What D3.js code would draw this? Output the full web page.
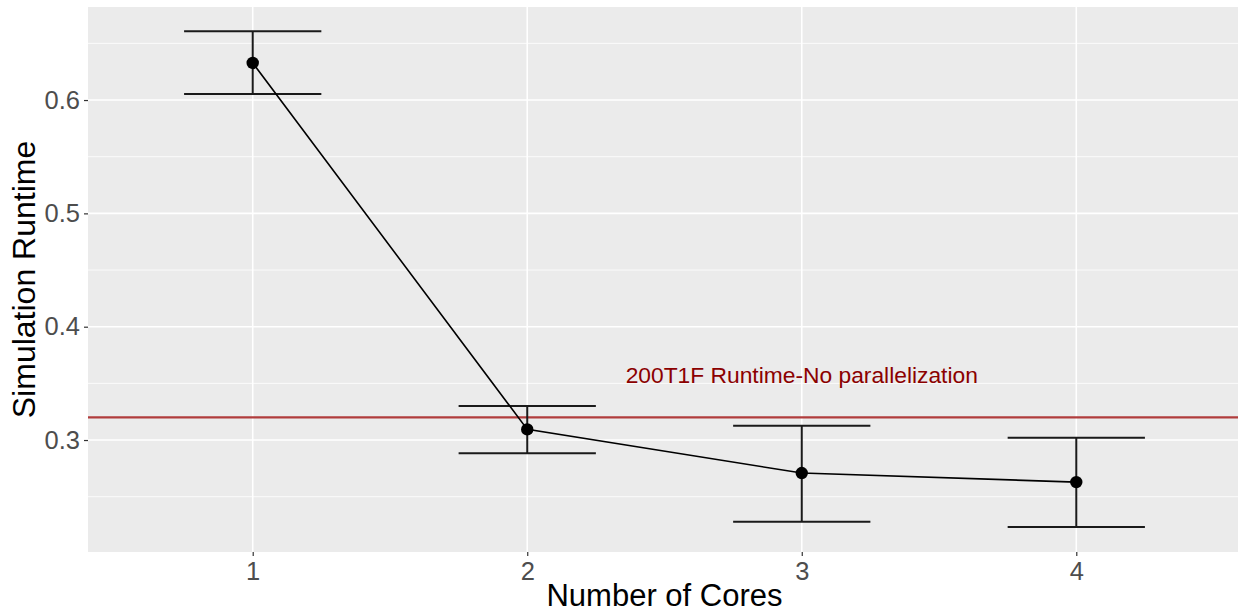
<!DOCTYPE html>
<html>
<head>
<meta charset="utf-8">
<script src="https://cdn.jsdelivr.net/npm/d3@7"></script>
<style>
  html, body { margin: 0; padding: 0; background: #fff; }
  svg { display: block; font-family: "Liberation Sans", Arial, sans-serif; }
</style>
</head>
<body>
<svg id="chart" width="1238" height="614"></svg>
<script>
// Runtime by number of cores, mean with error bars
const cores = [1, 2, 3, 4];
const runtime = [0.6327, 0.3094, 0.2709, 0.2629];
const lower = [0.6053, 0.2883, 0.2280, 0.2232];
const upper = [0.6606, 0.3300, 0.3126, 0.3020];
const yTicks = [0.3, 0.4, 0.5, 0.6];
const yMinor = [0.25, 0.35, 0.45, 0.55, 0.65];
const baseline = 0.32;
const baselineLabel = "200T1F Runtime-No parallelization";
const baselineLabelPos = [3, 0.357];

const svg = d3.select("#chart");
const panel = { left: 88, right: 1241, top: 7, bottom: 552 };

const x = d3.scaleLinear().domain([0.4, 4.6]).range([panel.left, panel.right]);
const y = d3.scaleLinear().domain([0.2012, 0.6821]).range([panel.bottom, panel.top]);

// panel background
svg.append("rect")
  .attr("x", panel.left).attr("y", panel.top)
  .attr("width", panel.right - panel.left).attr("height", panel.bottom - panel.top)
  .attr("fill", "#EBEBEB");

const grid = svg.append("g");
grid.selectAll("line.minor").data(yMinor).join("line")
  .attr("x1", panel.left).attr("x2", panel.right)
  .attr("y1", d => y(d)).attr("y2", d => y(d))
  .attr("stroke", "#fff").attr("stroke-width", 0.8);
grid.selectAll("line.majy").data(yTicks).join("line")
  .attr("x1", panel.left).attr("x2", panel.right)
  .attr("y1", d => y(d)).attr("y2", d => y(d))
  .attr("stroke", "#fff").attr("stroke-width", 1.6);
grid.selectAll("line.majx").data(cores).join("line")
  .attr("y1", panel.top).attr("y2", panel.bottom)
  .attr("x1", d => x(d)).attr("x2", d => x(d))
  .attr("stroke", "#fff").attr("stroke-width", 1.6);

// axes
const yAxis = d3.axisLeft(y).tickValues(yTicks).tickFormat(d3.format(".1f")).tickSize(4).tickPadding(4);
const gy = svg.append("g").attr("transform", `translate(${panel.left},0)`).call(yAxis);
const xAxis = d3.axisBottom(x).tickValues(cores).tickFormat(d3.format("d")).tickSize(4).tickPadding(6);
const gx = svg.append("g").attr("transform", `translate(0,${panel.bottom})`).call(xAxis);
[gx, gy].forEach(g => {
  g.select(".domain").remove();
  g.selectAll(".tick line").attr("stroke", "#333").attr("stroke-width", 1.2);
  g.selectAll(".tick text").attr("fill", "#4D4D4D").style("font-size", "25.5px")
    .style("font-family", "'Liberation Sans', Arial, sans-serif");
});
gx.selectAll(".tick text").attr("dy", "0.71em");

// baseline reference
svg.append("line")
  .attr("x1", panel.left).attr("x2", panel.right)
  .attr("y1", y(baseline)).attr("y2", y(baseline))
  .attr("stroke", "#B03C3C").attr("stroke-width", 2.4);

svg.append("text")
  .attr("x", x(baselineLabelPos[0])).attr("y", y(baselineLabelPos[1]))
  .attr("dy", "0.35em").attr("text-anchor", "middle")
  .attr("fill", "#8B0000").style("font-size", "22.8px")
  .text(baselineLabel);

// error bars
const data = cores.map((c, i) => ({ c, v: runtime[i], lo: lower[i], hi: upper[i] }));
const capHalf = 0.25;
const eb = svg.append("g").attr("stroke", "#1a1a1a").attr("stroke-width", 2);
eb.selectAll("line.v").data(data).join("line")
  .attr("x1", d => x(d.c)).attr("x2", d => x(d.c))
  .attr("y1", d => y(d.lo)).attr("y2", d => y(d.hi));
eb.selectAll("line.hi").data(data).join("line")
  .attr("x1", d => x(d.c - capHalf)).attr("x2", d => x(d.c + capHalf))
  .attr("y1", d => y(d.hi)).attr("y2", d => y(d.hi));
eb.selectAll("line.lo").data(data).join("line")
  .attr("x1", d => x(d.c - capHalf)).attr("x2", d => x(d.c + capHalf))
  .attr("y1", d => y(d.lo)).attr("y2", d => y(d.lo));

// connecting line and points
svg.append("path").datum(data)
  .attr("fill", "none").attr("stroke", "#000").attr("stroke-width", 1.6)
  .attr("d", d3.line().x(d => x(d.c)).y(d => y(d.v)));
svg.selectAll("circle.pt").data(data).join("circle")
  .attr("cx", d => x(d.c)).attr("cy", d => y(d.v)).attr("r", 6.2)
  .attr("fill", "#000");

// axis titles
svg.append("text")
  .attr("x", (panel.left + panel.right) / 2).attr("y", 606)
  .attr("text-anchor", "middle").attr("fill", "#000").style("font-size", "31px")
  .text("Number of Cores");
svg.append("text")
  .attr("transform", `translate(35,${(panel.top + panel.bottom) / 2}) rotate(-90)`)
  .attr("text-anchor", "middle").attr("fill", "#000").style("font-size", "32px")
  .text("Simulation Runtime");
</script>
</body>
</html>
